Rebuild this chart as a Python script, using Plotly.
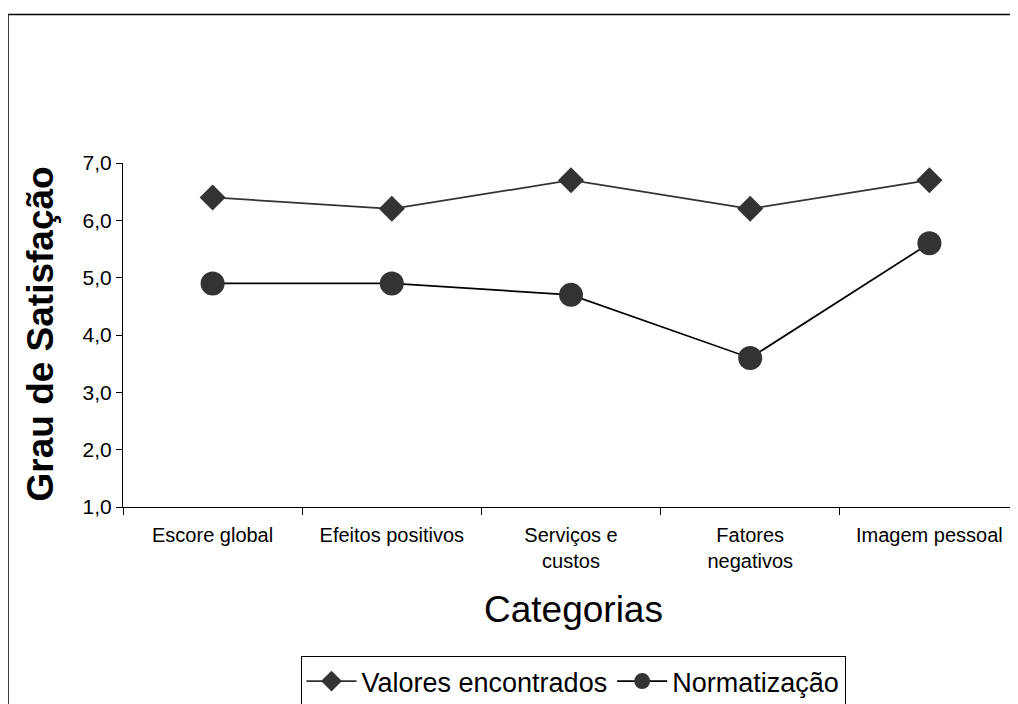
import plotly.graph_objects as go

categories = ["Escore global", "Efeitos positivos", "Serviços e<br>custos", "Fatores<br>negativos", "Imagem pessoal"]
valores_encontrados = [6.4, 6.2, 6.7, 6.2, 6.7]
normatizacao = [4.9, 4.9, 4.7, 3.6, 5.6]
y_ticks = [1, 2, 3, 4, 5, 6, 7]
y_ticklabels = ["1,0", "2,0", "3,0", "4,0", "5,0", "6,0", "7,0"]

FONT = "Liberation Sans, Arial, sans-serif"

# plot area (figure coords): x 115..1011, y 155..500
PW, PH = 896, 345

fig = go.Figure()
fig.add_trace(go.Scatter(
    x=categories, y=valores_encontrados, mode="lines+markers",
    name="Valores encontrados",
    line=dict(color="#333333", width=1.7),
    marker=dict(symbol="diamond", size=20, color="#333333"),
))
fig.add_trace(go.Scatter(
    x=categories, y=normatizacao, mode="lines+markers",
    name="Normatização",
    line=dict(color="#000000", width=1.7),
    marker=dict(symbol="circle", size=24, color="#333333"),
))

fig.update_layout(
    width=1018, height=704,
    margin=dict(l=115, r=7, t=155, b=204),
    paper_bgcolor="white", plot_bgcolor="white",
    font=dict(family=FONT, color="#000000", size=20),
    showlegend=True,
    legend=dict(
        orientation="h", x=(565 - 115) / PW, xanchor="center", y=(500 - 648) / PH, yanchor="top",
        bordercolor="#000000", borderwidth=1, font=dict(size=27, family=FONT),
        itemwidth=50, tracegroupgap=0,
    ),
    xaxis=dict(
        type="category", range=[-0.5, 4.5], showline=True, linecolor="#000000", linewidth=1,
        ticks="outside", tickson="boundaries", ticklen=7, tickcolor="#000000",
        ticklabelstandoff=10,
        showgrid=False, zeroline=False, tickfont=dict(size=20, family=FONT),
    ),
    yaxis=dict(
        range=[1, 7], tickvals=y_ticks, ticktext=y_ticklabels,
        showline=True, linecolor="#000000", linewidth=1,
        ticks="outside", ticklen=6, tickcolor="#000000",
        showgrid=False, zeroline=False, tickfont=dict(size=21, family=FONT),
    ),
    annotations=[
        dict(text="Grau de Satisfação", xref="paper", yref="paper",
             x=(33 - 115) / PW, y=(500 - 327) / PH, xanchor="center", yanchor="middle",
             textangle=-90, showarrow=False,
             font=dict(size=37, family=FONT, color="#000000", weight="bold")),
        dict(text="Categorias", xref="paper", yref="paper",
             x=(565 - 115) / PW, y=(500 - 603) / PH, xanchor="center", yanchor="middle",
             showarrow=False, font=dict(size=37, family=FONT, color="#000000")),
    ],
    shapes=[
        dict(type="rect", xref="paper", yref="paper",
             x0=(0 - 115) / PW, x1=1.05, y0=-0.7, y1=(500 - 6) / PH,
             line=dict(color="#000000", width=1.5), layer="below"),
    ],
)

fig.write_html("out.html")
